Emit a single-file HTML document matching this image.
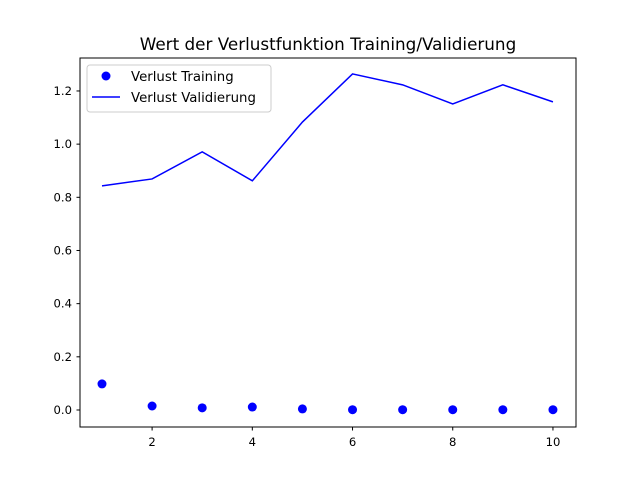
<!DOCTYPE html>
<html><head><meta charset="utf-8"><style>
body{margin:0;background:#fff;}
svg text{font-family:"DejaVu Sans","Liberation Sans",sans-serif;}
</style></head><body>
<svg id="chart" width="640" height="480" viewBox="0 0 640 480" xmlns="http://www.w3.org/2000/svg">
<rect width="640" height="480" fill="#fff"/>
<text x="328" y="50" text-anchor="middle" font-size="16.8">Wert der Verlustfunktion Training/Validierung</text>
<g id="plot"></g>
<rect x="80" y="58" width="496" height="369" fill="none" stroke="#000" stroke-width="1"/>
<g>
<rect x="87" y="65" width="184" height="47" rx="3" fill="#fff" fill-opacity="0.8" stroke="#ccc"/>
<circle cx="106" cy="76" r="4.5" fill="#0000ff"/>
<text x="131" y="81" font-size="13.3">Verlust Training</text>
<line x1="92" y1="97" x2="120" y2="97" stroke="#0000ff" stroke-width="1.5"/>
<text x="131" y="102" font-size="13.3">Verlust Validierung</text>
</g>
</svg>
<script>
const epochs=[1,2,3,4,5,6,7,8,9,10];
const trainLoss=[0.098,0.015,0.008,0.011,0.004,0.001,0.001,0.001,0.001,0.001];
const valLoss=[0.843,0.869,0.971,0.862,1.083,1.264,1.223,1.151,1.223,1.159];
const xTicks=[2,4,6,8,10];
const yTicks=[0.0,0.2,0.4,0.6,0.8,1.0,1.2];
const X0=80,X1=576,Y0=427,Y1=58;
const xMin=0.561,xMax=10.46,yMin=-0.064,yMax=1.324;
function sx(v){return X0+(v-xMin)/(xMax-xMin)*(X1-X0);}
function sy(v){return Y0-(v-yMin)/(yMax-yMin)*(Y0-Y1);}
const NS="http://www.w3.org/2000/svg";
const g=document.getElementById('plot');
function mk(t,a){const e=document.createElementNS(NS,t);for(const k in a)e.setAttribute(k,a[k]);g.appendChild(e);return e;}
xTicks.forEach(t=>{
const l=mk('line',{x1:sx(t),x2:sx(t),y1:427,y2:430.5,stroke:'#000'});


const tx=mk('text',{x:sx(t),y:446,'text-anchor':'middle','font-size':'11.6'});tx.textContent=t;


});
yTicks.forEach(t=>{
const l=mk('line',{x1:76.5,x2:80,y1:sy(t),y2:sy(t),stroke:'#000'});


const tx=mk('text',{x:72,y:sy(t)+4,'text-anchor':'end','font-size':'11.6'});tx.textContent=t.toFixed(1);


});
const pl=mk('polyline',{points:epochs.map((e,i)=>sx(e)+','+sy(valLoss[i])).join(' '),fill:'none',stroke:'#0000ff','stroke-width':1.5});


epochs.forEach((e,i)=>{
const c=mk('circle',{cx:sx(e),cy:sy(trainLoss[i]),r:4.5,fill:'#0000ff'});


});
</script>
</body></html>
